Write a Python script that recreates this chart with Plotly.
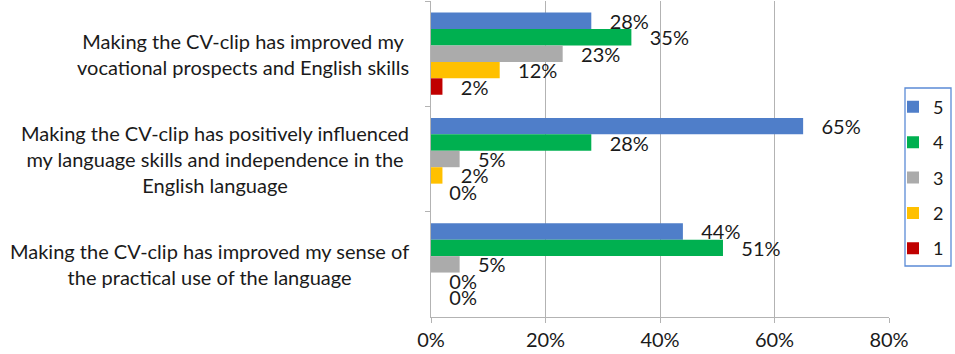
import plotly.graph_objects as go

# Survey statements (y categories)
statements = [
    "Making the CV-clip has improved my<br>vocational prospects and English skills",
    "Making the CV-clip has positively influenced<br>my language skills and independence in the<br>English language",
    "Making the CV-clip has improved my sense of<br>the practical use of the language",
]
cat_keys = ["vocational", "influenced", "practical"]

# Share of respondents per rating (5 = highest)
ratings = ["5", "4", "3", "2", "1"]
share_5 = [0.28, 0.65, 0.44]
share_4 = [0.35, 0.28, 0.51]
share_3 = [0.23, 0.05, 0.05]
share_2 = [0.12, 0.02, 0.00]
share_1 = [0.02, 0.00, 0.00]
series = [share_5, share_4, share_3, share_2, share_1]

colors = ["#4F7EC9", "#00B050", "#ABABAB", "#FFC000", "#C00000"]

x_ticks = [0, 0.2, 0.4, 0.6, 0.8]

FONT = "Lato"
TXT = "#1a1a1a"
GRID = "#B3B3B3"

fig = go.Figure()
for name, vals, col in zip(ratings, series, colors):
    fig.add_trace(go.Bar(
        y=cat_keys, x=vals, name=name, orientation="h",
        marker=dict(color=col, line=dict(width=0)),
        texttemplate="\u00a0\u00a0\u00a0%{x:.0%}",
        textposition="outside",
        constraintext="none",
        cliponaxis=False,
        textfont=dict(family=FONT, size=20, color=TXT),
        legendgroup=name,
    ))

# Category labels, centred multi-line text left of the axis
for key, label in zip(cat_keys, statements):
    fig.add_annotation(
        x=0, xref="paper", y=key, yref="y",
        text=label, showarrow=False, xanchor="right", xshift=-20,
        align="center", font=dict(family=FONT, size=20, color=TXT),
    )

# Frame around the legend
fig.add_shape(
    type="rect", xref="paper", yref="paper",
    x0=(905 - 431) / 458, x1=(951 - 431) / 458,
    y0=(317 - 266) / 316, y1=(317 - 88) / 316,
    line=dict(color="#5B8BD6", width=1.3), fillcolor="rgba(0,0,0,0)",
)

fig.update_layout(
    width=955, height=354,
    margin=dict(l=431, r=66, t=1, b=37, autoexpand=False),
    paper_bgcolor="white", plot_bgcolor="white",
    barmode="group", bargap=0.22, bargroupgap=0,
    font=dict(family=FONT, size=20, color=TXT),
    legend=dict(
        x=(893 - 431) / 458, xanchor="left", y=0.723, yanchor="top",
        traceorder="grouped", tracegroupgap=9,
        bgcolor="rgba(0,0,0,0)", borderwidth=0,
        font=dict(family=FONT, size=18, color=TXT),
        itemwidth=30,
    ),
    xaxis=dict(
        range=[0, 0.8], tickvals=x_ticks, tickformat=".0%",
        showgrid=True, gridcolor=GRID, gridwidth=1,
        showline=True, linecolor=GRID,
        ticks="outside", ticklen=5, tickcolor=GRID,
        zeroline=False,
        tickfont=dict(family=FONT, size=20, color=TXT),
    ),
    yaxis=dict(
        type="category", autorange="reversed",
        showticklabels=False,
        showline=True, linecolor=GRID,
        ticks="outside", ticklen=5, tickcolor=GRID,
        tickson="boundaries",
        showgrid=False,
    ),
)

fig.write_html("out.html")
